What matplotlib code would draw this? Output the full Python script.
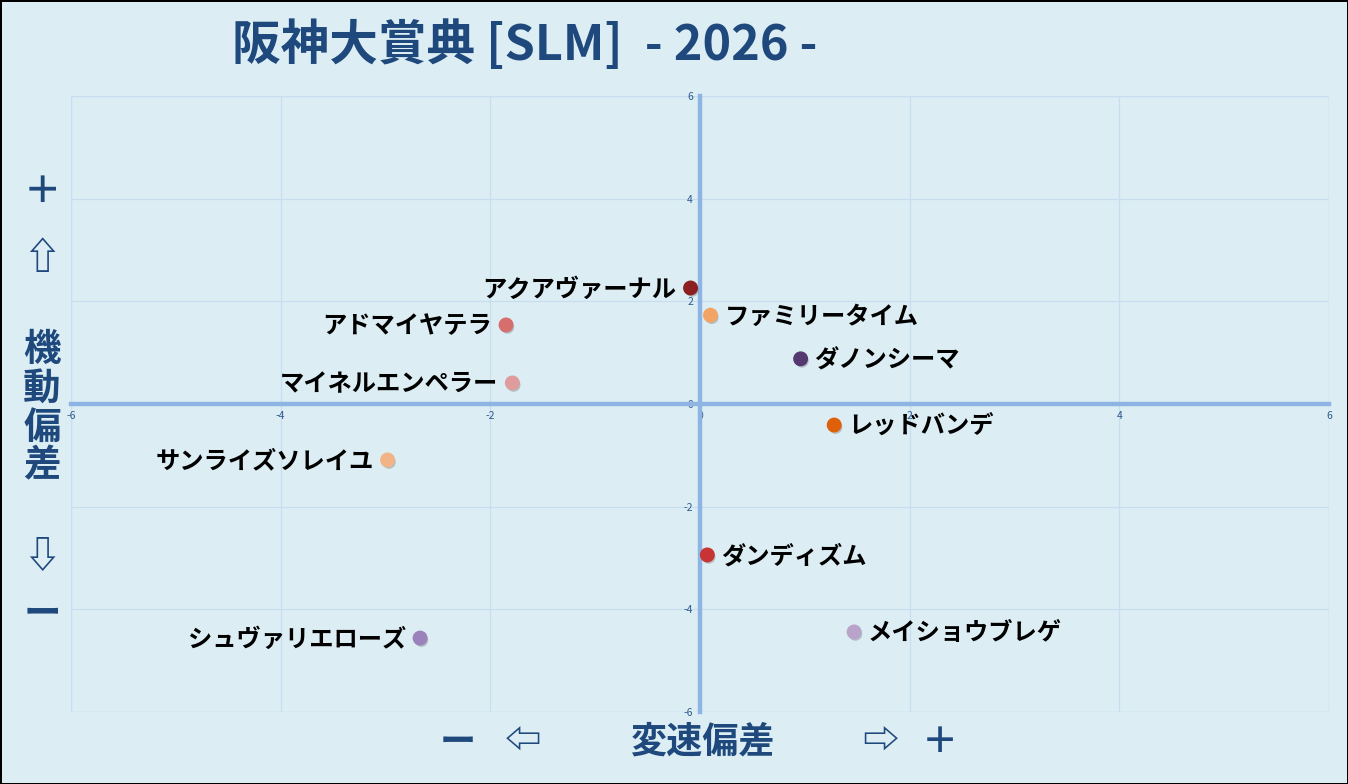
import matplotlib
matplotlib.use("Agg")
import matplotlib.pyplot as plt
import matplotlib.patheffects as pe

plt.rcParams['font.family'] = ['Noto Sans CJK JP', 'DejaVu Sans']

# ---- data ----
names = ["アクアヴァーナル", "ファミリータイム", "アドマイヤテラ", "ダノンシーマ",
         "マイネルエンペラー", "レッドバンデ", "サンライズソレイユ", "ダンディズム",
         "メイショウブレゲ", "シュヴァリエローズ"]
speed_dev = [-0.09, 0.10, -1.85, 0.96, -1.79, 1.28, -2.98, 0.07, 1.47, -2.67]
mobility_dev = [2.26, 1.73, 1.54, 0.88, 0.41, -0.41, -1.09, -2.94, -4.44, -4.56]
colors = ["#8C2020", "#F2A464", "#D76E6E", "#553870", "#DF9C9C",
          "#DF600A", "#F2B486", "#C83434", "#B9A3CA", "#9C82BA"]
ticks = [-6, -4, -2, 0, 2, 4, 6]
title = "阪神大賞典 [SLM]  - 2026 -"

BG = "#DCEEF4"
NAVY = "#1F497D"
AXC = "#8DB4E2"
GRID = "#C8DEF0"

fig = plt.figure(figsize=(13.48, 7.84), dpi=100, facecolor=BG,
                 edgecolor="black", linewidth=2)
ax = fig.add_axes([71/1348, 1-712/784, (1329-71)/1348, (712-96)/784])
ax.set_facecolor(BG)
ax.set_xlim(-6, 6)
ax.set_ylim(-6, 6)
ax.set_xticks(ticks)
ax.set_yticks(ticks)
ax.set_xticklabels([str(t) for t in ticks])
ax.set_yticklabels([str(t) for t in ticks])
ax.set_axisbelow(True)
ax.grid(True, color=GRID, linewidth=0.9)
for s in ["top", "right"]:
    ax.spines[s].set_visible(False)
ax.spines["left"].set_position("zero")
ax.spines["bottom"].set_position("zero")
for s in ["left", "bottom"]:
    ax.spines[s].set_color(AXC)
    ax.spines[s].set_linewidth(3.2)
    ax.spines[s].set_zorder(2.5)
ax.tick_params(length=0, labelsize=7.5, labelcolor="#2F5A8C")
ax.tick_params(axis="x", pad=5)
ax.tick_params(axis="y", pad=5)
# outer grid borders
for v in (-6, 6):
    ax.axhline(v, color=GRID, linewidth=0.9, zorder=0.5)
    ax.axvline(v, color=GRID, linewidth=0.9, zorder=0.5)

ax.scatter(speed_dev, mobility_dev, s=95, c=colors, zorder=3,
           path_effects=[pe.SimplePatchShadow(offset=(1, -1.5), shadow_rgbFace="#555555",
                                              alpha=0.3), pe.Normal()])

for n, x, y in zip(names, speed_dev, mobility_dev):
    left = x < 0
    ax.annotate(n, (x, y), xytext=(-10 if left else 10, -1), textcoords="offset points",
                ha="right" if left else "left", va="center", fontsize=17.5,
                fontweight="bold", color="black", zorder=4)

# title
fig.text(232/1348, 1-45/784, title, ha="left", va="center", fontsize=35,
         fontweight="bold", color=NAVY)

# y-axis label (vertical stacked)
ylab = [("＋", 192), ("⇧", 257), ("機", 350), ("動", 388), ("偏", 427),
        ("差", 465), ("⇩", 556), ("ー", 613)]
for ch, py in ylab:
    fig.text(42/1348, 1-py/784, ch, ha="center", va="center", fontsize=27,
             fontweight="bold", color=NAVY)

# x-axis label
xlab = [("ー", 458), ("⇦", 523), ("変速偏差", 702), ("⇨", 880), ("＋", 940)]
for t, px in xlab:
    fig.text(px/1348, 1-742/784, t, ha="center", va="center", fontsize=26,
             fontweight="bold", color=NAVY)

fig.savefig("out.png", dpi=100, facecolor=BG, edgecolor="black")
